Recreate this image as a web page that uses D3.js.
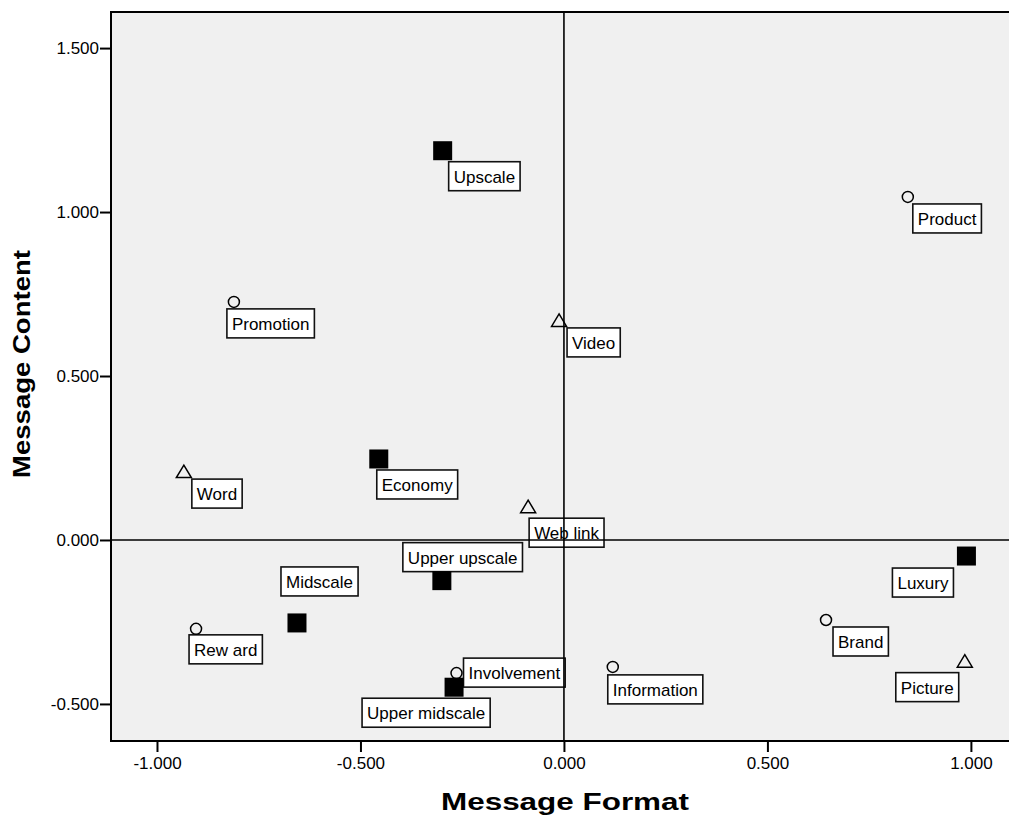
<!DOCTYPE html>
<html>
<head>
<meta charset="utf-8">
<script src="https://cdn.jsdelivr.net/npm/d3@7"></script>
<style>
  html, body { margin: 0; padding: 0; background: #ffffff; }
  svg { display: block; font-family: Arial, "Liberation Sans", sans-serif; }
</style>
</head>
<body>
<svg id="chart" width="1009" height="815"></svg>
<script>
// ---- data ----
const names   = ["Upscale", "Product", "Promotion", "Video", "Word", "Economy", "Web link",
                 "Upper upscale", "Luxury", "Midscale", "Rew ard", "Brand", "Picture",
                 "Information", "Involvement", "Upper midscale"];
const format  = [-0.298, 0.845, -0.811, -0.012, -0.934, -0.455, -0.088,
                 -0.300, 0.989, -0.656, -0.904, 0.644, 0.985,
                  0.120, -0.264, -0.270];
const content = [ 1.187, 1.046, 0.726, 0.668, 0.207, 0.247, 0.100,
                 -0.124, -0.049, -0.253, -0.271, -0.244, -0.371,
                 -0.387, -0.406, -0.449];
const kinds   = ["square", "circle", "circle", "triangle", "triangle", "square", "triangle",
                 "square", "square", "square", "circle", "circle", "triangle",
                 "circle", "circle", "square"];
const xTicks  = [-1.0, -0.5, 0.0, 0.5, 1.0];
const yTicks  = [-0.5, 0.0, 0.5, 1.0, 1.5];
const xTitle  = "Message Format";
const yTitle  = "Message Content";

// label box placement (top-left corner of box relative to the marker, px)
const labelOffsets = [[6, 11], [5, 7], [-7, 7], [8, 7], [8, 7], [-2, 11], [1, 11],
                      [-39, -38], [-74, 12], [-16, -56], [-7, 6], [7, 7], [-69, 11],
                      [-5, 8], [7, -15], [-92, 11]];

// ---- layout ----
const svg = d3.select("#chart");
const plot = {left: 111, right: 1012, top: 12, bottom: 741};

const x = d3.scaleLinear().domain([-1.113, 1.101]).range([plot.left, plot.right]);
const y = d3.scaleLinear().domain([-0.613, 1.610]).range([plot.bottom, plot.top]);

// background
svg.append("rect")
  .attr("x", plot.left).attr("y", plot.top)
  .attr("width", plot.right - plot.left).attr("height", plot.bottom - plot.top)
  .attr("fill", "#f0f0f0").attr("stroke", "#000").attr("stroke-width", 2);

// axes
const fmt = v => d3.format(".3f")(v).replace("\u2212", "-");
const xAxis = svg.append("g")
  .attr("transform", `translate(0,${plot.bottom})`)
  .call(d3.axisBottom(x).tickValues(xTicks).tickFormat(fmt).tickSize(11).tickPadding(5));
const yAxis = svg.append("g")
  .attr("transform", `translate(${plot.left},0)`)
  .call(d3.axisLeft(y).tickValues(yTicks).tickFormat(fmt).tickSize(11).tickPadding(1));
[xAxis, yAxis].forEach(g => {
  g.select(".domain").remove();
  g.selectAll(".tick line").attr("stroke", "#000").attr("stroke-width", 2);
  g.selectAll(".tick text").attr("fill", "#000").style("font-size", "17px")
    .style("font-family", "Arial, 'Liberation Sans', sans-serif");
});

// axis titles
svg.append("text")
  .attr("x", 565).attr("y", 810)
  .attr("text-anchor", "middle")
  .attr("textLength", 248).attr("lengthAdjust", "spacingAndGlyphs")
  .style("font-size", "23px").style("font-weight", "bold")
  .text(xTitle);
svg.append("text")
  .attr("transform", `translate(30,364) rotate(-90)`)
  .attr("text-anchor", "middle")
  .attr("textLength", 228).attr("lengthAdjust", "spacingAndGlyphs")
  .style("font-size", "23px").style("font-weight", "bold")
  .text(yTitle);

// labels
const pts = names.map((n, i) => ({name: n, fx: format[i], cy: content[i], kind: kinds[i], off: labelOffsets[i]}));

const labelG = svg.append("g");
pts.forEach(p => {
  const px = x(p.fx), py = y(p.cy);
  const g = labelG.append("g").attr("transform", `translate(${px + p.off[0]},${py + p.off[1]})`);
  const t = g.append("text")
    .attr("x", 5).attr("y", 21)
    .style("font-size", "17px")
    .attr("fill", "#000")
    .text(p.name);
  const w = t.node().getComputedTextLength();
  g.insert("rect", "text")
    .attr("x", 0).attr("y", 0)
    .attr("width", w + 10).attr("height", 29)
    .attr("fill", "#fff").attr("stroke", "#111").attr("stroke-width", 1.6);
});

// reference lines
svg.append("line")
  .attr("x1", x(0)).attr("x2", x(0)).attr("y1", plot.top).attr("y2", plot.bottom)
  .attr("stroke", "#000").attr("stroke-width", 1.6);
svg.append("line")
  .attr("x1", plot.left).attr("x2", plot.right).attr("y1", y(0)).attr("y2", y(0))
  .attr("stroke", "#000").attr("stroke-width", 1.6);

// markers
const markG = svg.append("g");
pts.forEach(p => {
  const px = x(p.fx), py = y(p.cy);
  if (p.kind === "square") {
    markG.append("rect")
      .attr("x", px - 9.5).attr("y", py - 9.5).attr("width", 19).attr("height", 19)
      .attr("fill", "#000");
  } else if (p.kind === "circle") {
    markG.append("circle")
      .attr("cx", px).attr("cy", py).attr("r", 5.5)
      .attr("fill", "none").attr("stroke", "#000").attr("stroke-width", 1.5);
  } else {
    markG.append("path")
      .attr("d", `M${px},${py - 7} L${px + 7.5},${py + 5.5} L${px - 7.5},${py + 5.5} Z`)
      .attr("fill", "none").attr("stroke", "#000").attr("stroke-width", 1.5);
  }
});

// redraw plot border on top
svg.append("rect")
  .attr("x", plot.left).attr("y", plot.top)
  .attr("width", plot.right - plot.left).attr("height", plot.bottom - plot.top)
  .attr("fill", "none").attr("stroke", "#000").attr("stroke-width", 2);
</script>
</body>
</html>
